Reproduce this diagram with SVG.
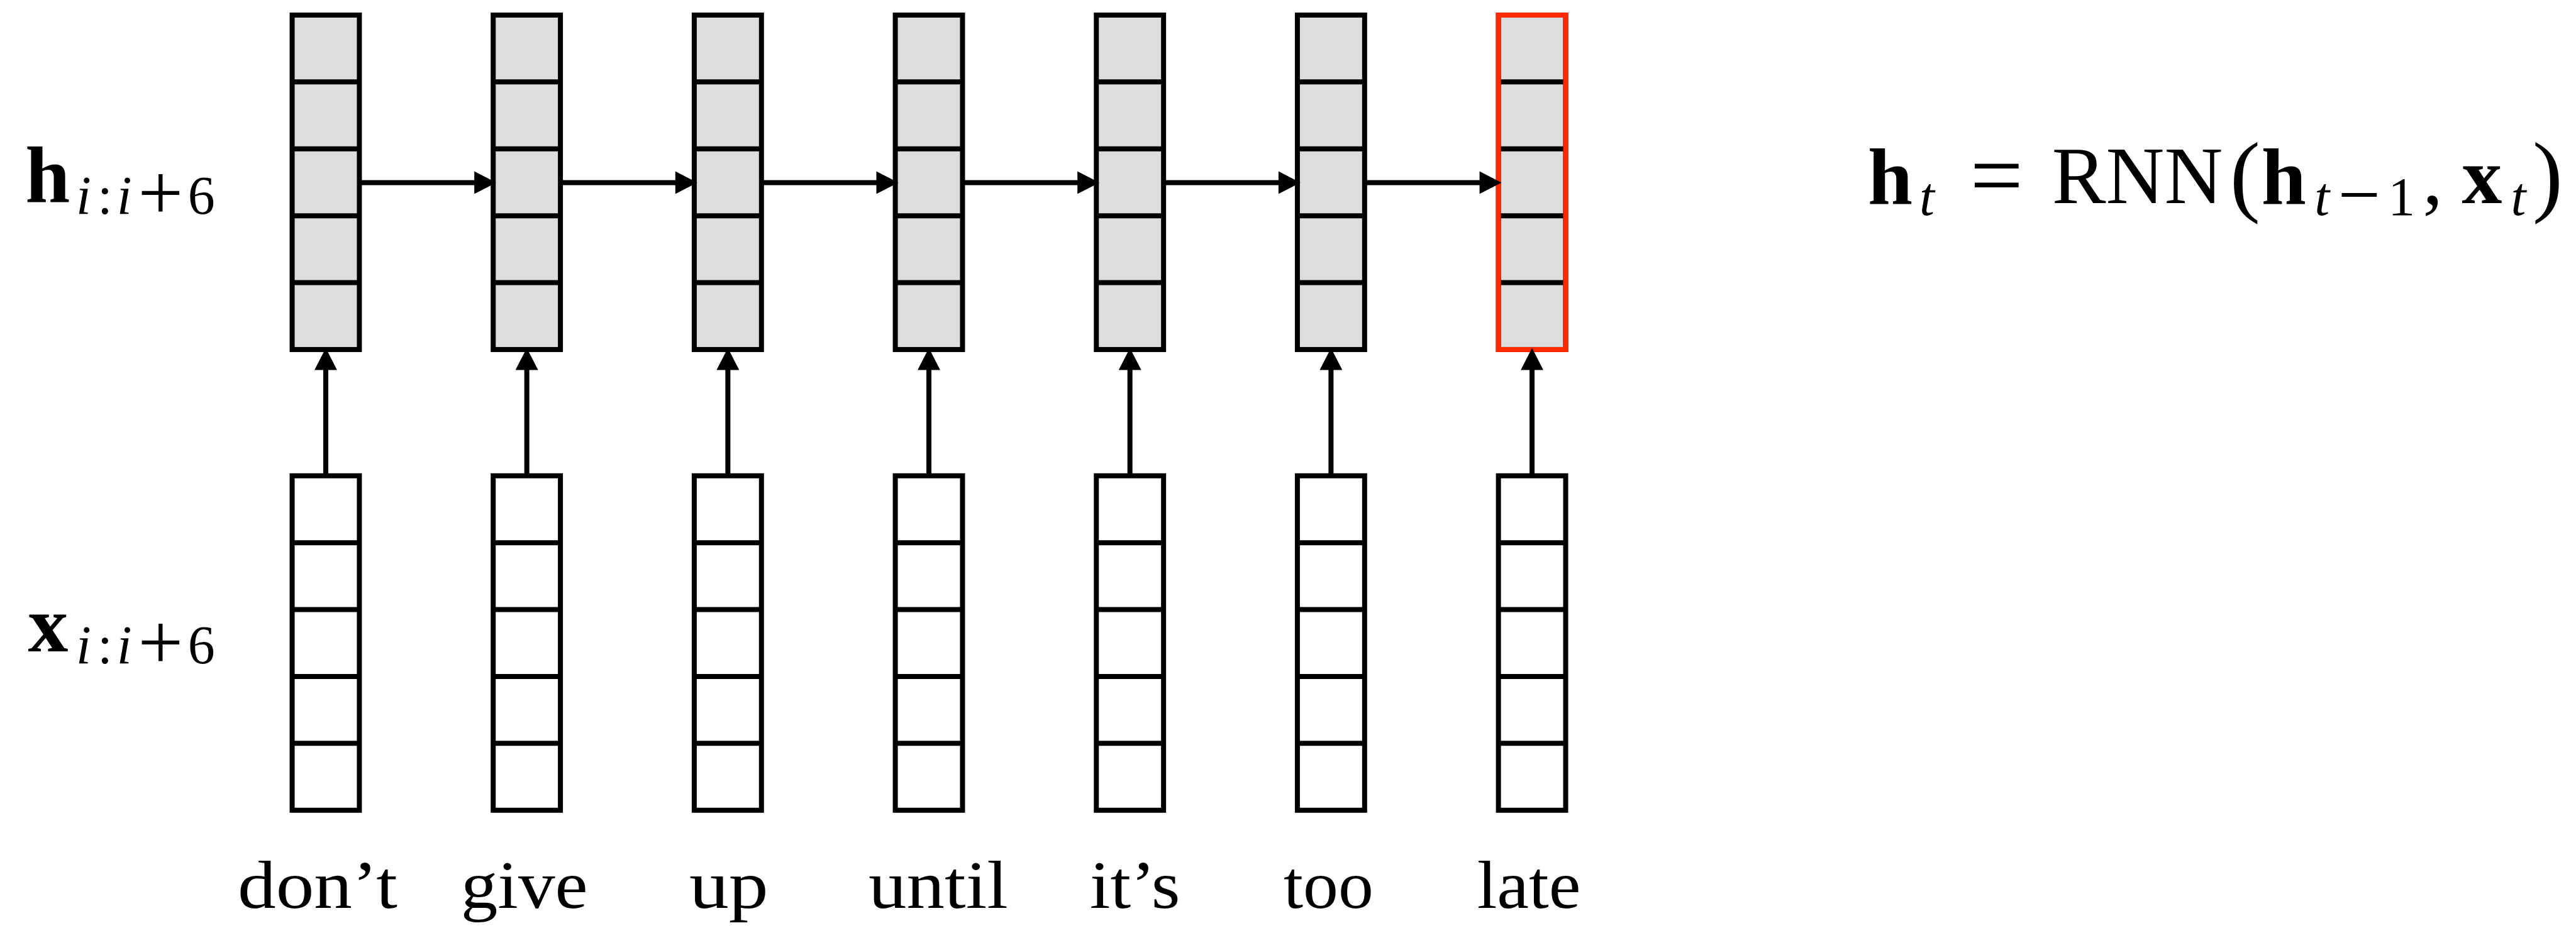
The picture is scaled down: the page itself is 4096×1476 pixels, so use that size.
<svg xmlns="http://www.w3.org/2000/svg" width="4096" height="1476" viewBox="0 0 4096 1476">
  <defs>
    <style>
      .cell-h { fill: #DCDDDF; stroke: #000; stroke-width: 8; }
      .cell-x { fill: #FFF; stroke: #000; stroke-width: 8; }
      .div { stroke: #000; stroke-width: 8; }
      .hot { fill: none; stroke: #FF2A00; stroke-width: 8; }
      .wire { stroke: #000; stroke-width: 8; fill: none; marker-end: url(#ah); }
      .m { font-family: "Liberation Serif", "Times New Roman", serif; fill: #000; }
      .b { font-weight: bold; }
      .it { font-style: italic; }
      .word { font-family: "Liberation Serif", "Times New Roman", serif; font-size: 108px; fill: #000; text-anchor: middle; }
      .mid { text-anchor: middle; }
    </style>
    <marker id="ah" markerUnits="userSpaceOnUse" markerWidth="36" markerHeight="36" viewBox="0 0 34 35" refX="3" refY="17.5" orient="auto">
      <path d="M0,0 L34,17.5 L0,35 z" fill="#000"/>
    </marker>
    <!-- one vector column: five stacked cells -->
    <g id="dividers">
      <line class="div" x1="0" y1="106.5" x2="107" y2="106.5"/>
      <line class="div" x1="0" y1="213" x2="107" y2="213"/>
      <line class="div" x1="0" y1="319.5" x2="107" y2="319.5"/>
      <line class="div" x1="0" y1="426" x2="107" y2="426"/>
    </g>
  </defs>

  <g transform="scale(0.999)">
    <rect x="0" y="0" width="4098" height="1477" fill="#FFF"/>

    <!-- row labels -->
    <g id="label-h">
      <text class="m b mid" font-size="128" x="76" y="321">h</text>
      <text class="m it" font-size="86" y="340"><tspan class="mid" x="133">i</tspan><tspan class="mid" x="167" font-style="normal">:</tspan><tspan class="mid" x="198">i</tspan></text>
      <text class="m mid" font-size="128" x="255.5" y="349">+</text>
      <text class="m mid" font-size="86" x="320.5" y="340">6</text>
    </g>
    <g id="label-x">
      <text class="m b mid" font-size="128" x="76.5" y="1037">x</text>
      <text class="m it" font-size="86" y="1056"><tspan class="mid" x="133">i</tspan><tspan class="mid" x="167" font-style="normal">:</tspan><tspan class="mid" x="198">i</tspan></text>
      <text class="m mid" font-size="128" x="255.5" y="1065">+</text>
      <text class="m mid" font-size="86" x="320.5" y="1056">6</text>
    </g>

    <!-- hidden states -->
    <g id="h1" transform="translate(465,24)"><rect class="cell-h" width="107" height="532.5"/><use href="#dividers"/></g>
    <g id="h2" transform="translate(785,24)"><rect class="cell-h" width="107" height="532.5"/><use href="#dividers"/></g>
    <g id="h3" transform="translate(1105,24)"><rect class="cell-h" width="107" height="532.5"/><use href="#dividers"/></g>
    <g id="h4" transform="translate(1425,24)"><rect class="cell-h" width="107" height="532.5"/><use href="#dividers"/></g>
    <g id="h5" transform="translate(1745,24)"><rect class="cell-h" width="107" height="532.5"/><use href="#dividers"/></g>
    <g id="h6" transform="translate(2065,24)"><rect class="cell-h" width="107" height="532.5"/><use href="#dividers"/></g>
    <g id="h7" transform="translate(2385,24)"><rect class="cell-h" width="107" height="532.5"/><use href="#dividers"/><rect class="hot" width="107" height="532.5"/></g>

    <!-- inputs -->
    <g id="x1" transform="translate(465,757.5)"><rect class="cell-x" width="107" height="532.5"/><use href="#dividers"/></g>
    <g id="x2" transform="translate(785,757.5)"><rect class="cell-x" width="107" height="532.5"/><use href="#dividers"/></g>
    <g id="x3" transform="translate(1105,757.5)"><rect class="cell-x" width="107" height="532.5"/><use href="#dividers"/></g>
    <g id="x4" transform="translate(1425,757.5)"><rect class="cell-x" width="107" height="532.5"/><use href="#dividers"/></g>
    <g id="x5" transform="translate(1745,757.5)"><rect class="cell-x" width="107" height="532.5"/><use href="#dividers"/></g>
    <g id="x6" transform="translate(2065,757.5)"><rect class="cell-x" width="107" height="532.5"/><use href="#dividers"/></g>
    <g id="x7" transform="translate(2385,757.5)"><rect class="cell-x" width="107" height="532.5"/><use href="#dividers"/></g>

    <!-- words -->
    <g id="words">
      <text class="word" x="505.5" y="1445" textLength="254" lengthAdjust="spacingAndGlyphs">don’t</text>
      <text class="word" x="834.5" y="1445" textLength="202" lengthAdjust="spacingAndGlyphs">give</text>
      <text class="word" x="1160" y="1445" textLength="126" lengthAdjust="spacingAndGlyphs">up</text>
      <text class="word" x="1493.5" y="1445" textLength="222" lengthAdjust="spacingAndGlyphs">until</text>
      <text class="word" x="1806.5" y="1445" textLength="144" lengthAdjust="spacingAndGlyphs">it’s</text>
      <text class="word" x="2114.5" y="1445" textLength="143" lengthAdjust="spacingAndGlyphs">too</text>
      <text class="word" x="2433.5" y="1445" textLength="165" lengthAdjust="spacingAndGlyphs">late</text>
    </g>

    <!-- recurrence -->
    <g id="formula">
      <text class="m b mid" font-size="128" x="3008.5" y="324">h</text>
      <text class="m it mid" font-size="86" x="3067" y="342">t</text>
      <text class="m mid" font-size="150" x="3178" y="329">=</text>
      <text class="m" font-size="130" x="3266" y="323" textLength="272" lengthAdjust="spacingAndGlyphs">RNN</text>
      <text class="m mid" font-size="145" x="3573.5" y="326">(</text>
      <text class="m b mid" font-size="128" x="3635" y="324">h</text>
      <text class="m it mid" font-size="86" x="3696" y="342">t</text>
      <text class="m mid" font-size="120" x="3755" y="350">−</text>
      <text class="m mid" font-size="86" x="3822.5" y="342">1</text>
      <text class="m mid" font-size="128" x="3872" y="324">,</text>
      <text class="m b mid" font-size="128" x="3950.5" y="323">x</text>
      <text class="m it mid" font-size="86" x="4008.5" y="342">t</text>
      <text class="m mid" font-size="145" x="4055" y="326">)</text>
    </g>

    <!-- connectors -->
    <g id="connectors">
      <line class="wire" x1="572" y1="290.75" x2="758" y2="290.75"/>
      <line class="wire" x1="892" y1="290.75" x2="1078" y2="290.75"/>
      <line class="wire" x1="1212" y1="290.75" x2="1398" y2="290.75"/>
      <line class="wire" x1="1532" y1="290.75" x2="1718" y2="290.75"/>
      <line class="wire" x1="1852" y1="290.75" x2="2038" y2="290.75"/>
      <line class="wire" x1="2172" y1="290.75" x2="2358" y2="290.75"/>

      <line class="wire" x1="518.5" y1="757.5" x2="518.5" y2="586"/>
      <line class="wire" x1="838.5" y1="757.5" x2="838.5" y2="586"/>
      <line class="wire" x1="1158.5" y1="757.5" x2="1158.5" y2="586"/>
      <line class="wire" x1="1478.5" y1="757.5" x2="1478.5" y2="586"/>
      <line class="wire" x1="1798.5" y1="757.5" x2="1798.5" y2="586"/>
      <line class="wire" x1="2118.5" y1="757.5" x2="2118.5" y2="586"/>
      <line class="wire" x1="2438.5" y1="757.5" x2="2438.5" y2="586"/>
    </g>
  </g>
</svg>
